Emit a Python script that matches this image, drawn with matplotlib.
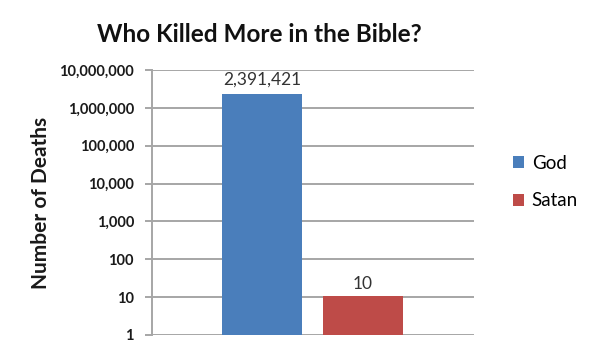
import matplotlib
matplotlib.use("Agg")
import matplotlib.pyplot as plt
from matplotlib.ticker import FixedLocator, FixedFormatter
from matplotlib.patches import Patch

series = ["God", "Satan"]
values = [2391421, 10]
value_labels = ["2,391,421", "10"]
colors = ["#4a7ebb", "#be4b48"]
ytick_vals = [1, 10, 100, 1000, 10000, 100000, 1000000, 10000000]
ytick_labels = ["1", "10", "100", "1,000", "10,000", "100,000", "1,000,000", "10,000,000"]

plt.rcParams['font.family'] = ['Lato', 'DejaVu Sans']

W, H = 590, 355
fig = plt.figure(figsize=(W/100, H/100), dpi=100)
ax = fig.add_axes([152/W, 1-335/H, (474-152)/W, (335-70)/H])

offsets = [-0.158, 0.155]
width = 0.25
for s, v, c, o, lab in zip(series, values, colors, offsets, value_labels):
    ax.bar(o, v, width=width, color=c, bottom=1, zorder=3, label=s)
    ax.annotate(lab, (o, v), xytext=(0, 4), textcoords='offset points',
                ha='center', va='bottom', fontsize=12.5, color='#333333')

ax.set_yscale('log')
ax.set_ylim(1, 1e7)
ax.set_xlim(-0.5, 0.5)
ax.yaxis.set_major_locator(FixedLocator(ytick_vals))
ax.yaxis.set_major_formatter(FixedFormatter(ytick_labels))
ax.yaxis.set_minor_locator(FixedLocator([]))
ax.set_xticks([])
ax.grid(axis='y', color='#a6a6a6', linewidth=1.4, zorder=0)
for sp in ['top', 'right', 'bottom']:
    ax.spines[sp].set_visible(False)
ax.spines['left'].set_color('#a6a6a6')
ax.spines['left'].set_linewidth(1.4)
ax.tick_params(axis='y', length=5, width=1.4, color='#a6a6a6', pad=8, labelsize=10.5)
for t in ax.get_yticklabels():
    t.set_fontweight('bold')
    t.set_color('#1a1a1a')

ax.set_ylabel("Number of Deaths", fontsize=15, fontweight='bold', color='#1a1a1a', labelpad=6)
fig.text(259/W, 1-35/H, "Who Killed More in the Bible?", ha='center', va='center',
         fontsize=17.5, fontweight='bold', color='#111111')

handles = [Patch(facecolor=c, edgecolor='none') for c in colors]
fig.legend(handles, series, loc='center left', bbox_to_anchor=(513/W, 1-182/H), frameon=False,
           borderpad=0, borderaxespad=0,
           fontsize=13.5, handlelength=0.6, handleheight=0.6, handletextpad=0.4, labelspacing=1.1)

fig.savefig("out.png", dpi=100)
